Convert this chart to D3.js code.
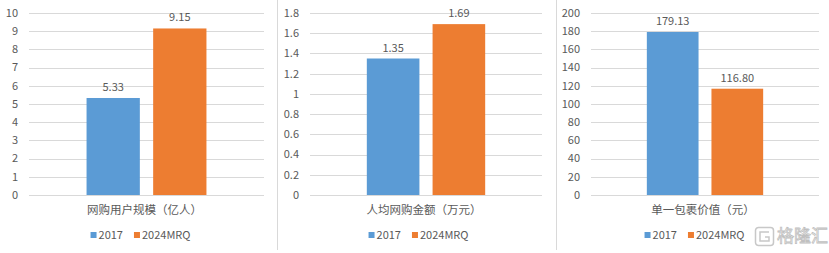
<!DOCTYPE html>
<html>
<head>
<meta charset="utf-8">
<script src="https://cdn.jsdelivr.net/npm/d3@7"></script>
<style>
  body { margin: 0; background: #fff; }
  text { font-family: "Noto Sans CJK SC", "Noto Sans", sans-serif; fill: #595959; }
</style>
</head>
<body>
<script>
var seriesNames = ["2017", "2024MRQ"];
var seriesColors = ["#5b9bd5", "#ed7d31"];

var userValues = [5.33, 9.15];
var spendValues = [1.35, 1.69];
var parcelValues = [179.13, 116.80];

var userTicks = [0, 1, 2, 3, 4, 5, 6, 7, 8, 9, 10];
var spendTicks = [0, 0.2, 0.4, 0.6, 0.8, 1, 1.2, 1.4, 1.6, 1.8];
var parcelTicks = [0, 20, 40, 60, 80, 100, 120, 140, 160, 180, 200];

var panels = [
  { x0: 0, x1: 277, left: 29, right: 264, label: "网购用户规模（亿人）", values: userValues, ticks: userTicks, max: 10, tfmt: function(d){ return d; } },
  { x0: 277, x1: 556, left: 310, right: 542, label: "人均网购金额（万元）", values: spendValues, ticks: spendTicks, max: 1.8, tfmt: function(d){ return +d.toFixed(1); } },
  { x0: 556, x1: 829, left: 591, right: 819, label: "单一包裹价值（元）", values: parcelValues, ticks: parcelTicks, max: 200, tfmt: function(d){ return d; } }
];

var width = 829, height = 253;
var plotTop = 13, plotBottom = 195;
var valFmt = d3.format(".2f");

var svg = d3.select("body").append("svg").attr("width", width).attr("height", height);

// panel separators
svg.selectAll(".sep")
  .data([277, 556])
  .enter().append("line")
  .attr("x1", function(d){ return d + 0.5; })
  .attr("x2", function(d){ return d + 0.5; })
  .attr("y1", 0).attr("y2", 250)
  .style("stroke", "#d9d9d9");

panels.forEach(function(p) {
  var g = svg.append("g");
  var y = d3.scaleLinear().domain([0, p.max]).range([plotBottom, plotTop]);
  var x0 = d3.scaleBand().domain([p.label]).range([p.left, p.right]).paddingInner(0).paddingOuter(0.48);
  var x1 = d3.scaleBand().domain(seriesNames).range([x0(p.label), x0(p.label) + x0.bandwidth()]).paddingInner(0.2);

  // gridlines
  g.selectAll(".grid")
    .data(p.ticks)
    .enter().append("line")
    .attr("x1", p.left).attr("x2", p.right)
    .attr("y1", function(d){ return Math.round(y(d)) + 0.5; })
    .attr("y2", function(d){ return Math.round(y(d)) + 0.5; })
    .style("stroke", "#d9d9d9");

  // tick labels
  g.selectAll(".tick")
    .data(p.ticks)
    .enter().append("text")
    .attr("x", p.left - 11)
    .attr("y", function(d){ return y(d); })
    .attr("dy", "0.35em")
    .attr("text-anchor", "end")
    .style("font-size", "11px")
    .text(p.tfmt);

  // bars
  g.selectAll(".bar")
    .data(p.values)
    .enter().append("rect")
    .attr("x", function(d, i){ return x1(seriesNames[i]); })
    .attr("width", x1.bandwidth())
    .attr("y", function(d){ return y(d); })
    .attr("height", function(d){ return plotBottom - y(d); })
    .style("fill", function(d, i){ return seriesColors[i]; });

  // value labels
  g.selectAll(".val")
    .data(p.values)
    .enter().append("text")
    .attr("x", function(d, i){ return x1(seriesNames[i]) + x1.bandwidth() / 2; })
    .attr("y", function(d){ return y(d) - 7; })
    .attr("text-anchor", "middle")
    .style("font-size", "11px")
    .text(valFmt);

  // category label
  g.append("text")
    .attr("x", (p.left + p.right) / 2 - 2)
    .attr("y", 210)
    .attr("dy", "0.35em")
    .attr("text-anchor", "middle")
    .style("font-size", "11.5px")
    .text(p.label);

  // legend
  var leg = g.append("g");
  var cx = 0;
  seriesNames.forEach(function(s, i) {
    leg.append("rect")
      .attr("x", cx).attr("y", 232)
      .attr("width", 6).attr("height", 6)
      .style("fill", seriesColors[i]);
    var t = leg.append("text")
      .attr("x", cx + 8).attr("y", 235)
      .attr("dy", "0.35em")
      .style("font-size", "11px")
      .text(s);
    cx += 8 + t.node().getComputedTextLength() + 11;
  });
  var lw = cx - 11;
  leg.attr("transform", "translate(" + ((p.x0 + p.x1) / 2 + 2 - lw / 2) + ",0)");
});

// watermark
var wm = svg.append("g").attr("transform", "translate(755,227)");
wm.append("rect")
  .attr("x", 0.5).attr("y", 0.5).attr("width", 18).attr("height", 18).attr("rx", 3)
  .style("fill", "none").style("stroke", "#c8c8c8").style("stroke-width", 1.5);
wm.append("path")
  .attr("d", "M14,5 H5 V14 H14 V10 H10")
  .style("fill", "none").style("stroke", "#c8c8c8").style("stroke-width", 1.5);
wm.append("text")
  .attr("x", 22).attr("y", 9.5).attr("dy", "0.35em")
  .style("font-size", "17px")
  .style("fill", "#fff").style("stroke", "#c0c0c0").style("stroke-width", 0.8)
  .text("格隆汇");
</script>
</body>
</html>
